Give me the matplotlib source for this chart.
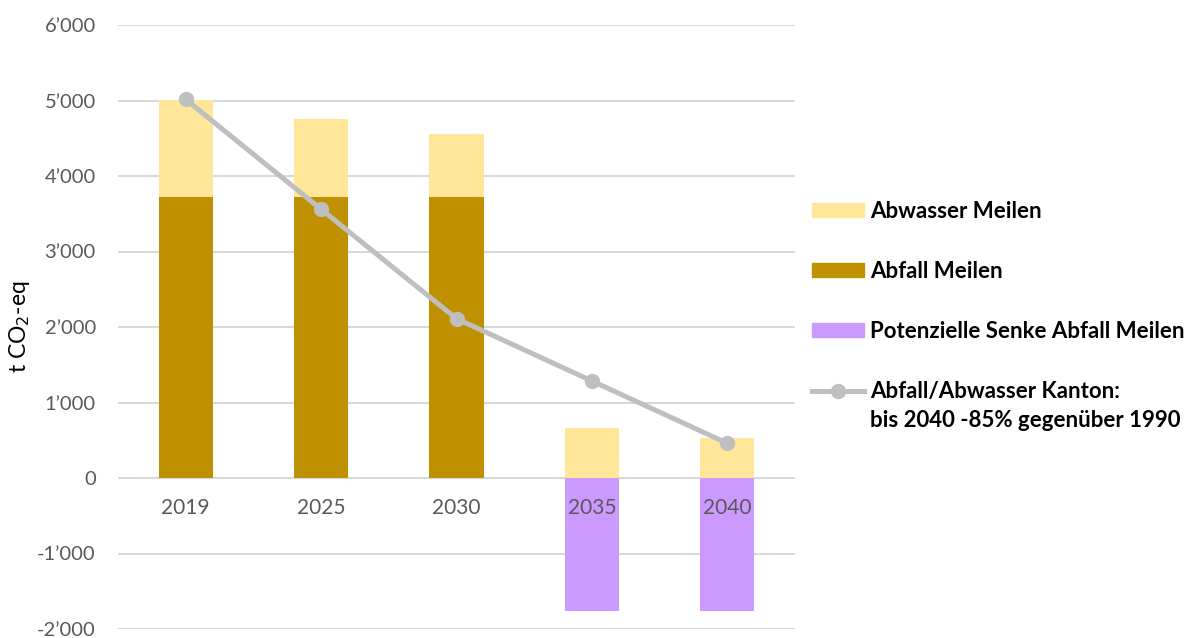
import matplotlib
matplotlib.use("Agg")
import matplotlib.pyplot as plt
from matplotlib.patches import Patch
from matplotlib.lines import Line2D
from matplotlib.ticker import FuncFormatter
import numpy as np

plt.rcParams["font.family"] = ["Lato", "DejaVu Sans"]

years = ["2019", "2025", "2030", "2035", "2040"]
abfall = [3720, 3720, 3720, 0, 0]
abwasser = [1290, 1040, 835, 660, 530]
senke = [0, 0, 0, -1765, -1765]
kanton = [5015, 3560, 2110, 1285, 460]

c_abwasser = "#FFE699"
c_abfall = "#BF9000"
c_senke = "#CC99FF"
c_line = "#BFBFBF"
c_grid = "#D9D9D9"
c_tick = "#595959"

fig = plt.figure(figsize=(11.86, 6.38), dpi=100)
ax = fig.add_axes([118 / 1186, 9 / 638, 677 / 1186, 604 / 638])

x = np.arange(len(years))
w = 0.4
ax.bar(x, abfall, w, color=c_abfall, zorder=2)
ax.bar(x, abwasser, w, bottom=abfall, color=c_abwasser, zorder=2)
ax.bar(x, senke, w, color=c_senke, zorder=2)
ax.plot(x, kanton, color=c_line, lw=3.6, marker="o", ms=10, zorder=3)

ax.set_xlim(-0.5, len(years) - 0.5)
ax.set_ylim(-2000, 6000)
ax.set_yticks(np.arange(-2000, 6001, 1000))
ax.yaxis.set_major_formatter(FuncFormatter(
    lambda v, p: f"{int(v):,}".replace(",", "\u2019")))
ax.tick_params(axis="y", length=0, pad=16, labelsize=14.5, labelcolor=c_tick)
ax.set_xticks([])
ax.grid(axis="y", color=c_grid, lw=1.5, zorder=0)
for s in ax.spines.values():
    s.set_visible(False)

for i, lab in enumerate(years):
    ax.annotate(lab, xy=(i, 0), xytext=(0, -21.5), textcoords="offset points",
                ha="center", va="center", fontsize=15, color=c_tick, zorder=4)

ax.set_ylabel("t CO$_2$-eq", fontsize=16.5, color="#000000")
ax.yaxis.set_label_coords(-0.127, 0.5)

handles = [
    Patch(color=c_abwasser),
    Patch(color=c_abfall),
    Patch(color=c_senke),
    Line2D([], [], color=c_line, lw=3.6, marker="o", ms=10),
]
labels = [
    "Abwasser Meilen",
    "Abfall Meilen",
    "Potenzielle Senke Abfall Meilen",
    "Abfall/Abwasser Kanton:",
]
leg_font = {"weight": "bold", "size": 16}
leg = fig.legend(handles, labels, loc="upper left",
                 bbox_to_anchor=(794 / 1186, 1 - 183 / 638),
                 frameon=False, handlelength=2.35, handleheight=0.58,
                 handletextpad=0.27, labelspacing=1.76, borderpad=0.3,
                 prop=leg_font)

# second line of the last legend label, placed directly beneath the first
fig.canvas.draw()
bb = leg.get_texts()[-1].get_window_extent()
x0, y0 = fig.transFigure.inverted().transform((bb.x0, bb.y0))
fig.text(x0, y0 - 8 / 638, "bis 2040 -85% gegenüber 1990",
         ha="left", va="top", **leg_font)

fig.savefig("out.png", dpi=100)
